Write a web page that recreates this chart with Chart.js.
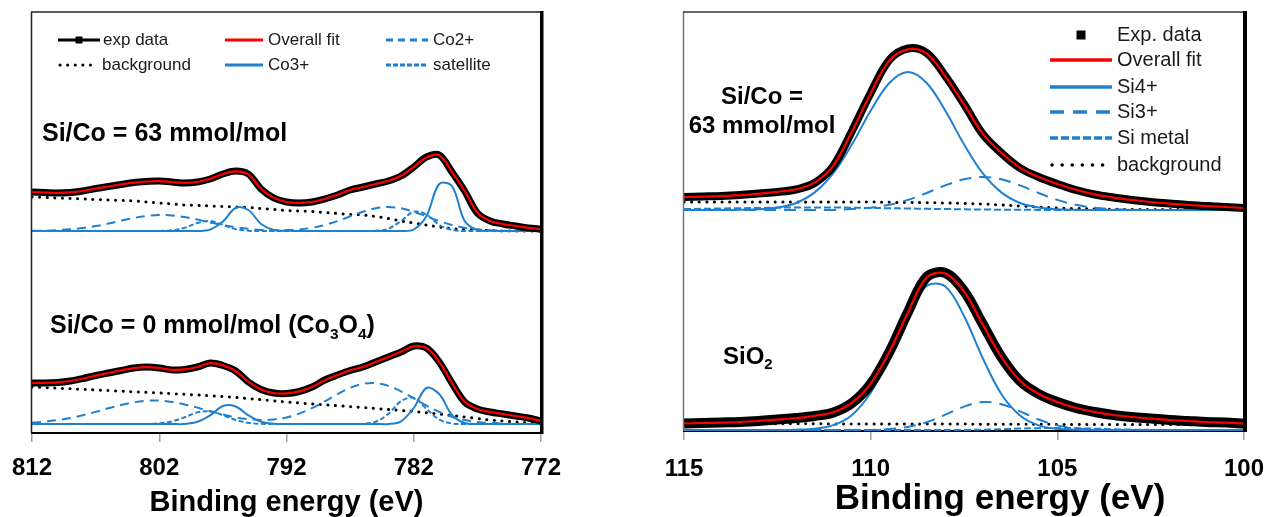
<!DOCTYPE html>
<html><head><meta charset="utf-8">
<script src="https://cdn.jsdelivr.net/npm/chart.js@4.4.1/dist/chart.umd.min.js"></script>
<style>
html,body{margin:0;padding:0;background:#fff;width:1268px;height:517px;overflow:hidden;position:relative}
#cL{position:absolute;left:0;top:0}
#cR{position:absolute;left:620px;top:0}
</style></head><body>
<canvas id="cL" width="600" height="517"></canvas>
<canvas id="cR" width="680" height="517"></canvas>
<script>
// ---------------- Co 2p panel (left) ----------------
const coEnergy = [812,811,810,809,808,807,806,805,804,803,802,801,800,799,798,797,796,795,794,793,792,791,790,789,788,787,786,785,784,783,782,781,780,779,778,777,776,775,774,773,772];
const coTicks = [812,802,792,782,772];

// Si/Co = 63 mmol/mol (upper spectrum)
const coExpTop = [241,240.5,240,240.5,242,244.5,246.5,248.5,250.5,251.5,252,251,250,251,254,259,262,259,244,235,231,230,231,234,238,243,246,249,252,257,266,276,278,261,242,220,212,209,207,205,204];
const coFitTop = [241,240.5,240.2,240.6,242,244.4,246.5,248.6,250.4,251.5,251.8,251,250.2,251,254.2,259,261.6,258.6,244.2,235.2,231,230.2,231,234,238.2,243,246,249,252.2,257.2,266,275.6,277.6,261.2,242,220.4,212,209,207,205.2,204];
const coBgTop = [236,235.5,235,234.5,234,233.5,233,232.5,232,231,230,229,228,227.5,227,226.5,226,225.5,224.5,223.5,222.5,222,221.5,220.5,219.5,218.5,218,216.5,214.5,212,210,208,206,204.5,203.5,203,202.5,202,202,202,202];
const coCo3Top = [202,202,202,202,202,202,202,202,202,202,202,202,202,202,203.4,211.4,225,223,209,203,202.2,202,202,202,202,202,202,202,202,202,203.5,217,249,247,212,203,202.2,202,202,202,202];
const coCo2Top = [202.2,202.4,202.9,203.7,205,206.9,209.4,212.3,215,217,218,217.6,215.9,213.4,210.5,207.9,205.7,204.2,203.1,202.8,202.9,203.6,205.2,208,211.9,216.6,221.2,224.7,226,224.7,221.2,216.6,211.9,208,205.2,203.6,202.7,202.3,202,202,202];
const coSatTop = [202,202,202,202,202,202,202,202,202,202,202,202.7,205.2,210,212,208.1,203.9,202.3,202,202,202,202,202,202,202,202,202,202.2,204.2,212,221.3,218.4,208.1,203,202,202,202,202,202,202,202];

// Si/Co = 0 mmol/mol, Co3O4 (lower spectrum)
const coExpBot = [50,50,50.5,52,54.5,57.5,60,62.5,65,66,65,63,63.5,66,70,67.5,62,51,43.5,40,39.5,41.5,46,53,58,62.5,66,71,76,81,87,85,71,50,31,24,21,19,17,15,12];
const coFitBot = [50,50.2,50.6,52,54.5,57.4,60,62.6,64.8,65.8,65,63.2,63.6,66,69.8,67.6,62,51.2,43.6,40,39.6,41.6,46,52.8,58,62.6,66,71,76,81.2,86.6,85,71.2,50,31.2,24,21,19,17,15,12.2];
const coBgBot = [46,45.4,44.8,44.2,43.6,43,42.5,41.8,41.2,40.6,40,39.3,38.7,38,37.2,36.4,35.5,34.4,33.3,32.2,31,30,29,28.2,27.3,26.4,25.5,24.5,23.5,22.5,21.5,20.3,19,17.5,16,14.5,13,12,11,10.2,9.5];
const coCo3Bot = [9,9,9,9,9,9,9,9,9,9,9,9,9,11.2,17.7,27,26.5,17.7,11.2,9.3,9,9,9,9,9,9,9,9,9,11.7,25,45,39,18,10,9,9,9,9,9,9];
const coCo2Bot = [10.3,11.3,12.9,15,17.8,21.1,24.7,28,30.7,32.3,32.4,31.1,28.6,25.4,21.8,18.5,15.5,13.8,13.1,13.6,15.6,19.4,24.9,31.6,38.8,45.2,49.1,49.8,47.1,41.6,34.6,27.4,21.1,16.3,13,11,10,9.5,9,9,9];
const coSatBot = [9,9,9,9,9,9,9,9,9,9,9.6,11.6,15.8,20.6,21.7,17.9,13,10.2,9.2,9,9,9,9,9,9,9,9.2,11.2,19,31.8,35.2,24.1,13.4,9.6,9,9,9,9,9,9,9];

// ---------------- Si 2p panel (right) ----------------
const siEnergy = [115,114.5,114,113.5,113,112.5,112,111.5,111,110.5,110,109.5,109,108.5,108,107.5,107,106.5,106,105.5,105,104.5,104,103.5,103,102.5,102,101.5,101,100.5,100];
const siTicks = [115,110,105,100];

// Si/Co = 63 mmol/mol (upper spectrum)
const siExpTop = [234,234.5,235,236,237.5,239,241.5,248,265,300,338,371,382.5,378,355,327,297,278,263,254,247,241,236.5,233.5,231,229,227.5,226,225,224,223];
const siFitTop = [234,234.4,235,235.8,237.4,239.2,241.6,248.4,265.4,299.6,337.6,370.4,381.6,377.4,354.6,326.6,297.4,278.2,263.2,254,247,241.2,236.6,233.4,231,229,227.4,226,225,224,223];
const siSi4Top = [221,221,221,221.2,221.7,223.4,228,238.6,257.8,286.7,320.2,348,359,348,320.2,286.7,257.8,238.6,228,223.4,221.7,221.2,221,221,221,221,221,221,221,221,221];
const siSi3Top = [221,221,221,221,221,221,221,221,221,221.9,223.3,226.2,231.1,238,245.6,251.7,254,251.7,245.6,238,231.1,226.2,223.3,221.9,221.3,221,221,221,221,221,221];
const siMetTop = [222,222.2,222.5,222.8,223,223.3,223.5,223.5,223.5,223.3,223,222.8,222.5,222.2,222,221.7,221.5,221.3,221.2,221.1,221,221,221,221,221,221,221,221,221,221,221];
const siBgTop = [229,229,229,229,229,229,229,229,229,229,229,228.7,228.5,228.3,228,227.5,227,226,225,224,223,222.5,222,221.7,221.5,221.5,221.5,221.5,221.5,221.5,221.5];

// SiO2 (lower spectrum)
const siExpBot = [7.5,8,8.5,9,10,11.5,13,15,18.5,28,47,79,119,154,158,140,107,74,50,37,29,23,19,16,14,12.5,11,10,9,8.5,7.5];
const siFitBot = [7.5,8,8.4,9,10,11.4,13,15.2,18.8,28.4,47.4,79.2,118.6,153.4,157.4,139.6,106.6,74,50.2,37,29,23,19,16,14,12.4,11,10,9,8.4,7.5];
const siSi4Bot = [1,1,1,1,1,1,1.3,2.3,5.9,16.1,38.2,74.5,116,145,144.5,115,73,37,15.5,5.6,2.2,1.2,1,1,1,1,1,1,1,1,1];
const siSi3Bot = [1,1,1,1,1,1,1,1,1,1,1,2,4.1,8.8,16.3,24.4,29,26.8,19.7,11.5,5.6,2.6,1.4,1,1,1,1,1,1,1,1];
const siMetBot = [1,1,1,1,1,1,1,1,1,1,1,1,1,1,1,1,1.3,1.8,2.4,2.8,3,2.8,2.3,1.8,1.4,1.1,1,1,1,1,1];
const siBgBot = [7.5,7.5,7.4,7.4,7.3,7.3,7.2,7.2,7.1,7.1,7,7,7,7,6.9,6.9,6.8,6.8,6.7,6.7,6.6,6.6,6.5,6.5,6.5,6.5,6.5,6.5,6.5,6.5,6.5];

const xTitle = 'Binding energy (eV)';

// ---------------- styles ----------------
const FONT = "'Liberation Sans', Arial, sans-serif";
const BLUE = '#1f80d0';
const stFit = {borderColor:'#ff0000', borderWidth:2.2, order:0};
const stExp = {borderColor:'#000000', borderWidth:7, order:1};
const stSolid = {borderColor:BLUE, borderWidth:2, order:2};
const stLong = {borderColor:BLUE, borderWidth:2, borderDash:[9,6], order:2};
const stShort = {borderColor:BLUE, borderWidth:2, borderDash:[5,2.5], order:2};
const stDots = {borderColor:'#000000', borderWidth:3, borderDash:[0.1,7.5], borderCapStyle:'round', order:3};

function pts(xs, ys){ return xs.map((x,i)=>({x:x, y:ys[i]})); }
function ds(label, xs, ys, style, extra){
  return Object.assign({label:label, data:pts(xs,ys), pointRadius:0, pointHoverRadius:0, tension:0.35, fill:false}, style, extra||{});
}

// ---------------- plugins ----------------
const legendPlugin = {
  id:'panelLegend',
  afterDraw(chart, args, o){
    if(!o || !o.items) return;
    const ctx = chart.ctx;
    ctx.save();
    ctx.font = o.font; ctx.textBaseline = 'middle'; ctx.textAlign = 'left';
    o.items.forEach(it=>{
      const d = chart.data.datasets.find(s=>s.label===it.label);
      ctx.save();
      if(!it.markerOnly){
        ctx.strokeStyle = d.borderColor;
        ctx.lineWidth = it.lw || 3;
        ctx.lineCap = d.borderCapStyle || 'butt';
        ctx.setLineDash(it.dash || d.borderDash || []);
        ctx.beginPath(); ctx.moveTo(it.x, it.y); ctx.lineTo(it.x+it.w, it.y); ctx.stroke();
      }
      if(it.marker){
        ctx.fillStyle = '#000';
        ctx.fillRect(it.x+it.w/2-it.marker/2, it.y-it.marker/2, it.marker, it.marker);
      }
      ctx.restore();
      ctx.fillStyle = o.color;
      ctx.fillText(d.label, it.x+it.w+it.gap, it.y);
    });
    ctx.restore();
  }
};

const textPlugin = {
  id:'panelText',
  afterDraw(chart, args, o){
    if(!o || !o.items) return;
    const ctx = chart.ctx;
    ctx.save();
    ctx.fillStyle = '#000'; ctx.textBaseline = 'alphabetic'; ctx.textAlign = 'left';
    o.items.forEach(t=>{
      const segs = t.segs;
      const fontFor = s => 'bold ' + (s.sub ? t.size*0.62 : t.size) + 'px ' + FONT;
      let total = 0;
      segs.forEach(s=>{ ctx.font = fontFor(s); total += ctx.measureText(s.t).width; });
      let x = t.align==='center' ? t.x - total/2 : t.x;
      segs.forEach(s=>{
        ctx.font = fontFor(s);
        ctx.fillText(s.t, x, t.y + (s.sub ? t.size*0.22 : 0));
        x += ctx.measureText(s.t).width;
      });
    });
    ctx.restore();
  }
};

const framePlugin = {
  id:'panelFrame',
  afterDatasetsDraw(chart, args, o){
    const a = chart.chartArea, ctx = chart.ctx;
    ctx.save();
    ctx.lineCap = 'butt';
    ctx.strokeStyle = o.leftColor; ctx.lineWidth = o.leftWidth;
    ctx.beginPath(); ctx.moveTo(a.left-0.5, a.top); ctx.lineTo(a.left-0.5, a.bottom); ctx.stroke();
    ctx.strokeStyle = o.topColor; ctx.lineWidth = o.topWidth;
    ctx.beginPath(); ctx.moveTo(a.left-1, a.top); ctx.lineTo(a.right+2, a.top); ctx.stroke();
    ctx.strokeStyle = '#000'; ctx.lineWidth = o.rightWidth;
    ctx.beginPath(); ctx.moveTo(a.right+o.rightWidth/2-1, a.top-1); ctx.lineTo(a.right+o.rightWidth/2-1, a.bottom+1); ctx.stroke();
    ctx.restore();
  }
};

function xScale(min, max, ticks, axisH, tickPad, titleSize, showTitle){
  return {
    type:'linear', reverse:true, min:min, max:max,
    afterBuildTicks(axis){ axis.ticks = ticks.map(v=>({value:v})); },
    afterFit(axis){ axis.height = axisH; },
    ticks:{color:'#000', font:{family:FONT, size:24, weight:'bold'}, padding:tickPad, maxRotation:0, autoSkip:false},
    grid:{drawOnChartArea:false, drawTicks:true, tickLength:9, color:'#a0a0a0', lineWidth:1.5},
    border:{display:true, color:'#000', width:2},
    title:{display:showTitle, text:xTitle, color:'#000', font:{family:FONT, size:titleSize, weight:'bold', lineHeight:1}, padding:{top:0, bottom:0}}
  };
}

// ---------------- left chart ----------------
new Chart(document.getElementById('cL'), {
  type:'line',
  data:{datasets:[
    ds('Overall fit', coEnergy, coFitTop, stFit),
    ds('exp data', coEnergy, coExpTop, stExp),
    ds('Co3+', coEnergy, coCo3Top, stSolid),
    ds('Co2+', coEnergy, coCo2Top, stLong),
    ds('satellite', coEnergy, coSatTop, stShort),
    ds('background', coEnergy, coBgTop, stDots),
    ds('Overall fit ', coEnergy, coFitBot, stFit),
    ds('exp data ', coEnergy, coExpBot, stExp),
    ds('Co3+ ', coEnergy, coCo3Bot, stSolid),
    ds('Co2+ ', coEnergy, coCo2Bot, stLong),
    ds('satellite ', coEnergy, coSatBot, stShort),
    ds('background ', coEnergy, coBgBot, stDots)
  ]},
  options:{
    responsive:false, animation:false, events:[],
    layout:{padding:{left:30, right:59, top:12, bottom:0}},
    scales:{
      x: xScale(772, 812, coTicks, 84, 12, 29, true),
      y:{display:false, min:0, max:421}
    },
    plugins:{
      legend:{display:false}, tooltip:{enabled:false},
      panelFrame:{leftColor:'#222', leftWidth:1.5, topColor:'#222', topWidth:1.5, rightWidth:3.5},
      panelLegend:{font:'17px '+FONT, color:'#1a1a1a', items:[
        {label:'exp data', x:58, y:40, w:42, gap:3, marker:7},
        {label:'Overall fit', x:225, y:40, w:38, gap:5},
        {label:'Co2+', x:386, y:40, w:42, gap:5, dash:[7,5]},
        {label:'background', x:60, y:65, w:32, gap:10, lw:3},
        {label:'Co3+', x:225, y:65, w:38, gap:5},
        {label:'satellite', x:386, y:65, w:42, gap:5, dash:[5,2]}
      ]},
      panelText:{items:[
        {x:42, y:141, size:25, segs:[{t:'Si/Co = 63 mmol/mol'}]},
        {x:50, y:333, size:25, segs:[{t:'Si/Co = 0 mmol/mol (Co'},{t:'3',sub:true},{t:'O'},{t:'4',sub:true},{t:')'}]}
      ]}
    }
  },
  plugins:[framePlugin, legendPlugin, textPlugin]
});

// ---------------- right chart ----------------
new Chart(document.getElementById('cR'), {
  type:'line',
  data:{datasets:[
    ds('Overall fit', siEnergy, siFitTop, stFit),
    ds('Exp. data', siEnergy, siExpTop, stExp, {borderWidth:8}),
    ds('Si4+', siEnergy, siSi4Top, stSolid),
    ds('Si3+', siEnergy, siSi3Top, stLong, {borderDash:[12,8]}),
    ds('Si metal', siEnergy, siMetTop, stShort, {borderDash:[7,3]}),
    ds('background', siEnergy, siBgTop, stDots),
    ds('Overall fit ', siEnergy, siFitBot, stFit),
    ds('Exp. data ', siEnergy, siExpBot, stExp, {borderWidth:10}),
    ds('Si4+ ', siEnergy, siSi4Bot, stSolid),
    ds('Si3+ ', siEnergy, siSi3Bot, stLong, {borderDash:[12,8]}),
    ds('Si metal ', siEnergy, siMetBot, stShort, {borderDash:[7,3]}),
    ds('background ', siEnergy, siBgBot, stDots)
  ]},
  options:{
    responsive:false, animation:false, events:[],
    layout:{padding:{left:64, right:56, top:12, bottom:0}},
    scales:{
      x: xScale(100, 115, siTicks, 86, 15, 35, false),
      y:{display:false, min:0, max:419}
    },
    plugins:{
      legend:{display:false}, tooltip:{enabled:false},
      panelFrame:{leftColor:'#777', leftWidth:1.5, topColor:'#333', topWidth:1.5, rightWidth:4},
      panelLegend:{font:'20px '+FONT, color:'#1a1a1a', items:[
        {label:'Exp. data', x:430, y:35, w:62, gap:5, marker:9, markerOnly:true},
        {label:'Overall fit', x:430, y:60, w:62, gap:5, lw:3.5},
        {label:'Si4+', x:430, y:87, w:62, gap:5, lw:3.5},
        {label:'Si3+', x:430, y:112, w:62, gap:5, lw:3.5, dash:[14,9]},
        {label:'Si metal', x:430, y:138, w:62, gap:5, lw:3.5, dash:[8,3]},
        {label:'background', x:432, y:165, w:56, gap:9, lw:3.5, dash:[0.1,10]}
      ]},
      panelText:{items:[
        {x:142, y:104, size:24, align:'center', segs:[{t:'Si/Co ='}]},
        {x:142, y:133, size:24, align:'center', segs:[{t:'63 mmol/mol'}]},
        {x:103, y:364, size:24, segs:[{t:'SiO'},{t:'2',sub:true}]},
        {x:380, y:509, size:35, align:'center', segs:[{t:xTitle}]}
      ]}
    }
  },
  plugins:[framePlugin, legendPlugin, textPlugin]
});
</script>
</body></html>
